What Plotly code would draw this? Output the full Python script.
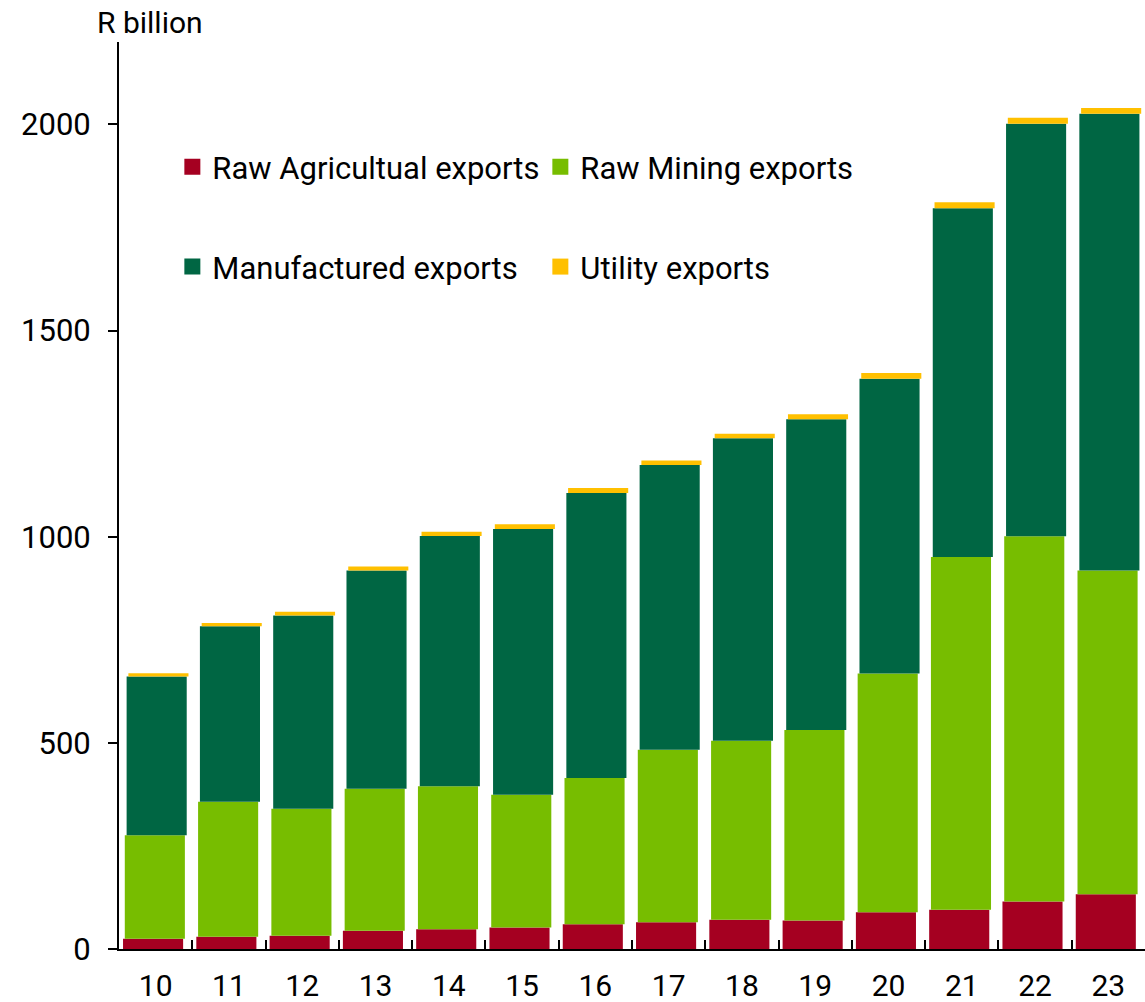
import numpy as np
import plotly.graph_objects as go

years = ["10", "11", "12", "13", "14", "15", "16", "17", "18", "19", "20", "21", "22", "23"]
agric = [25, 30, 32, 44, 48, 52, 60, 65, 71, 69, 89, 95, 115, 133]
mining = [251, 327, 308, 345, 347, 322, 355, 418, 434, 462, 579, 856, 886, 785]
manuf = [385, 426, 469, 529, 607, 645, 691, 691, 734, 754, 715, 846, 1001, 1108]
utility = [8, 8, 9, 10, 10, 11, 12, 11, 11, 12, 14, 14, 14, 14]

series_names = ["Raw Agricultual exports", "Raw Mining exports", "Manufactured exports", "Utility exports"]
colors = ["#A50021", "#77BD00", "#006643", "#FFC000"]
shifts = [-0.035, -0.011, 0.014, 0.038]
legend_ids = ["legend", "legend", "legend2", "legend2"]

values = [np.array(agric), np.array(mining), np.array(manuf), np.array(utility)]
bases = np.cumsum([np.zeros(len(years))] + values[:-1], axis=0)

BAR_W = 0.82
FONT = "Roboto"

fig = go.Figure()
for vals, base, name, col, sh in zip(values, bases, series_names, colors, shifts):
    fig.add_trace(go.Bar(
        x=years, y=vals, base=base, name=name,
        marker=dict(color=col, line=dict(width=0)),
        width=BAR_W, offset=-BAR_W / 2 + sh,
        showlegend=False,
    ))

# legend entries (square swatches)
for name, col, lg in zip(series_names, colors, legend_ids):
    fig.add_trace(go.Scatter(
        x=[None], y=[None], mode="markers", name=name,
        marker=dict(symbol="square", size=16, color=col),
        legend=lg, showlegend=True,
    ))

legend_common = dict(orientation="h", x=0.052, xanchor="left", yanchor="middle",
                     entrywidth=323, entrywidthmode="pixels", font=dict(size=31),
                     bgcolor="rgba(0,0,0,0)", itemsizing="trace")

fig.update_layout(
    width=1145, height=1002,
    margin=dict(l=119, r=0, t=42, b=53, autoexpand=False),
    paper_bgcolor="white", plot_bgcolor="white",
    barmode="overlay",
    font=dict(family=FONT, size=30, color="black"),
    legend=dict(y=0.862, **legend_common),
    legend2=dict(y=0.752, **legend_common),
    xaxis=dict(
        type="category", range=[-0.5, 13.5], automargin=False,
        showline=True, linecolor="black", linewidth=2,
        ticks="inside", tickson="boundaries", ticklen=9, tickwidth=2, tickcolor="black",
        showgrid=False, zeroline=False,
        tickfont=dict(size=30, family=FONT, color="black"),
        ticklabelstandoff=9,
    ),
    yaxis=dict(
        range=[0, 2200], tickvals=[0, 500, 1000, 1500, 2000], automargin=False,
        showline=True, linecolor="black", linewidth=2,
        ticks="outside", ticklen=9, tickwidth=2, tickcolor="black",
        showgrid=False, zeroline=False,
        tickfont=dict(size=31, family=FONT, color="black"),
        ticklabelstandoff=11,
    ),
    annotations=[dict(
        text="R billion", xref="paper", yref="paper", x=0, y=1,
        xanchor="center", yanchor="bottom", xshift=31, yshift=0,
        showarrow=False, font=dict(size=30, family=FONT, color="black"),
    )],
)

fig.write_html(
    "out.html",
    config={"displayModeBar": False},
    post_script="document.body.style.margin='0';document.body.style.overflow='hidden';",
)
